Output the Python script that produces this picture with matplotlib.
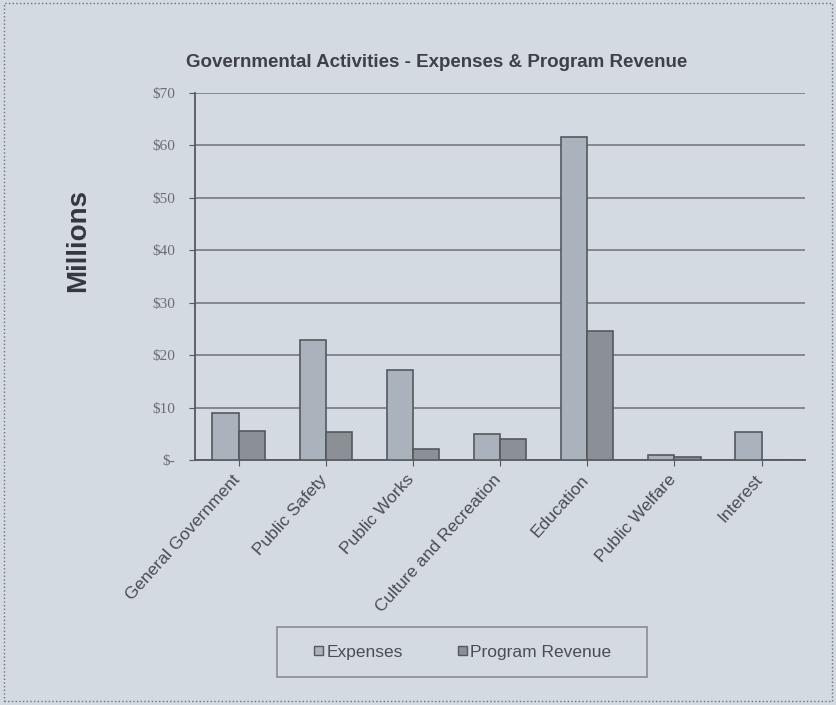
import matplotlib.pyplot as plt
import matplotlib.transforms as mtransforms
import numpy as np
from matplotlib.patches import Rectangle, Patch

categories = ['General Government', 'Public Safety', 'Public Works',
              'Culture and Recreation', 'Education', 'Public Welfare', 'Interest']
expenses = [9.0, 22.9, 17.2, 5.0, 61.6, 0.9, 5.4]
program_revenue = [5.5, 5.3, 2.1, 4.0, 24.6, 0.5, 0.0]
y_ticks = [0, 10, 20, 30, 40, 50, 60, 70]
y_labels = ['$-', '$10', '$20', '$30', '$40', '$50', '$60', '$70']

bg = '#d3dae2'
exp_color = '#aab3bc'
rev_color = '#8b9096'
edge = '#55595e'
text_color = '#4a4d52'

plt.rcParams['font.family'] = ['Liberation Sans', 'DejaVu Sans']

fig = plt.figure(figsize=(8.37, 7.05), dpi=100, facecolor=bg)
ax = fig.add_axes([0.233, 0.3475, 0.729, 0.5205])
ax.set_facecolor(bg)

x = np.arange(len(categories))
w = 0.3
ax.bar(x - w / 2, expenses, w, color=exp_color, edgecolor=edge, linewidth=1.2,
       label='Expenses', zorder=3)
ax.bar(x + w / 2, program_revenue, w, color=rev_color, edgecolor=edge, linewidth=1.2,
       label='Program Revenue', zorder=3)

ax.set_xlim(-0.5, len(categories) - 0.5)
ax.set_ylim(0, 70)
ax.set_yticks(y_ticks)
ax.set_yticklabels(y_labels, fontsize=11, color='#6a6e73', family='Liberation Serif')
ax.set_xticks(x)
ax.set_xticklabels([])
# rotated category labels, ends sitting just under each tick
offset = mtransforms.ScaledTranslation(-0.07, -0.12, fig.dpi_scale_trans)
for xi, name in zip(x, categories):
    ax.text(xi, 0, name, transform=ax.get_xaxis_transform() + offset,
            rotation=48, ha='right', va='top', rotation_mode='anchor',
            fontsize=12.5, color=text_color)
ax.yaxis.grid(True, color='#777b80', linewidth=1.2, zorder=0)
ax.tick_params(axis='y', length=4, color=edge, pad=10)
ax.tick_params(axis='x', length=4, color=edge)
for side in ['top', 'right']:
    ax.spines[side].set_visible(False)
for side in ['left', 'bottom']:
    ax.spines[side].set_color(edge)
    ax.spines[side].set_linewidth(1.3)

fig.text(78 / 837, 1 - 240 / 705, 'Millions', rotation=90, ha='center', va='center',
         fontsize=20, fontweight='semibold', color='#34373c')
fig.text(0.522, 0.911, 'Governmental Activities - Expenses & Program Revenue',
         ha='center', va='center', fontsize=13.5, fontweight='bold', color='#3e4146')

# legend box
fig.patches.append(Rectangle((277 / 837, 28 / 705), 370 / 837, 50 / 705,
                             transform=fig.transFigure, facecolor=bg,
                             edgecolor='#8a8e93', linewidth=1.2))
handles = [Patch(facecolor=exp_color, edgecolor=edge), Patch(facecolor=rev_color, edgecolor=edge)]
fig.legend(handles, ['Expenses', 'Program Revenue'], loc='center',
           bbox_to_anchor=(0.553, 0.075), ncol=2, frameon=False, fontsize=12.5,
           handlelength=0.5, handleheight=0.5, handletextpad=0.2, columnspacing=3.2,
           labelcolor=text_color)

# outer border
fig.patches.append(Rectangle((4 / 837, 4 / 705), 828 / 837, 698 / 705,
                             transform=fig.transFigure, fill=False,
                             edgecolor='#6e7277', linewidth=1.0, linestyle=':'))

fig.savefig('out.png', dpi=100, facecolor=bg)
